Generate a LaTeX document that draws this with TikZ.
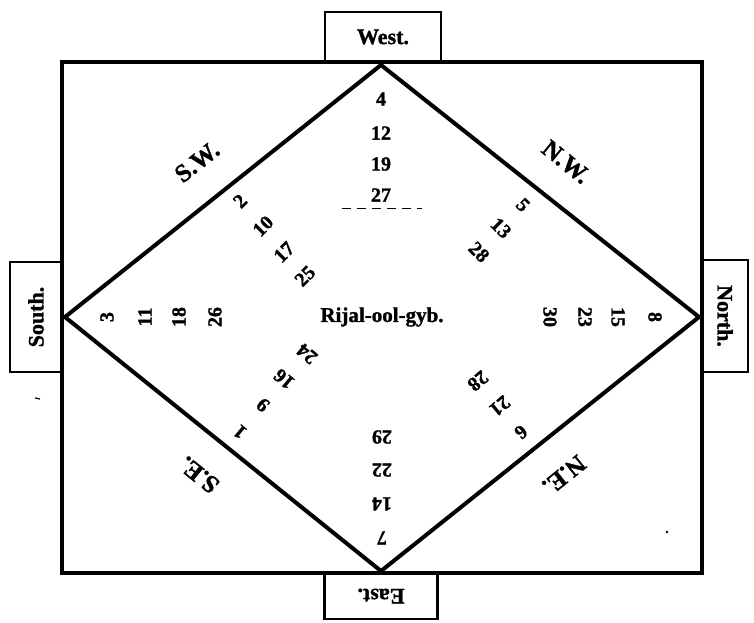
\documentclass[tikz,border=0pt]{standalone}
\usepackage{fontspec}
\setmainfont{Liberation Serif}[BoldFeatures={FakeBold=1.3}]
\usetikzlibrary{positioning}
\tikzset{
  num/.style={font=\fontsize{20}{22}\selectfont\bfseries, inner sep=0pt},
  quarter/.style={font=\fontsize{25}{28}\selectfont\bfseries, inner sep=0pt},
  tab/.style={draw, fill=white, line width=2.6pt, inner sep=0pt,
    font=\fontsize{22}{24}\selectfont\bfseries},
  frame/.style={line width=4pt},
}

\begin{document}
\begin{tikzpicture}[x=1pt,y=-1pt]
  \useasboundingbox (0,0) rectangle (754,622);
  % tabs on the four sides
  \node[tab, minimum width=116, minimum height=50] (westtab) at (383,37) {West.};
  \node[tab, minimum width=113, minimum height=46, rotate=180] (easttab) at (381,596) {East.};
  \node[tab, minimum width=110, minimum height=52, rotate=90] (southtab) at (36,317) {South.};
  \node[tab, minimum width=112, minimum height=46, rotate=-90] (northtab) at (725,316) {North.};
  % outer frame and the diamond
  \draw[frame] (62,62) rectangle (702,573);
  \coordinate (apW) at (381,65);
  \coordinate (apS) at (65,317);
  \coordinate (apN) at (699,317);
  \coordinate (apE) at (381,571);
  \draw[frame, line join=round] (apW) -- (apN) -- (apE) -- (apS) -- cycle;
  % names of the quarters
  \node[quarter, rotate=38.7] (sw) at (197,162) {S.W.};
  \node[quarter, rotate=-38.7] (nw) at (566,162) {N.W.};
  \node[quarter, rotate=141.3] (se) at (199,475) {S.E.};
  \node[quarter, rotate=-141.3] (ne) at (564,475) {N.E.};
  \node[num, font=\fontsize{21}{23}\selectfont\bfseries] (centre) at (382,317) {Rijal-ool-gyb.};
  % numbers towards the four apices
  \foreach \d/\y [count=\i] in {4/99,12/133,19/164,27/195}
    \node[num] (w\i) at (381,\y) {\d};
  \foreach \d/\x [count=\i] in {3/107,11/145,18/179,26/215}
    \node[num, rotate=90] (s\i) at (\x,317) {\d};
  \foreach \d/\x [count=\i] in {8/655,15/618,23/585,30/550}
    \node[num, rotate=-90] (n\i) at (\x,317) {\d};
  \foreach \d/\y [count=\i] in {7/538,14/504,22/470,29/437}
    \node[num, rotate=180] (e\i) at (382,\y) {\d};
  % numbers towards the four sides
  \foreach \d/\x/\y [count=\i] in {2/240/201,10/263/226,17/284/252,25/305/276}
    \node[num, rotate=45] (sw\i) at (\x,\y) {\d};
  \foreach \d/\x/\y [count=\i] in {5/523/205,13/501/228,28/479/252}
    \node[num, rotate=-45] (nw\i) at (\x,\y) {\d};
  \foreach \d/\x/\y [count=\i] in {1/240/432,9/263/405,16/284/379,24/307/354}
    \node[num, rotate=140] (se\i) at (\x,\y) {\d};
  \foreach \d/\x/\y [count=\i] in {6/521/432,21/500/406,28/478/381}
    \node[num, rotate=-140] (ne\i) at (\x,\y) {\d};
  % stray marks of the print
  \draw[line width=1pt, dash pattern=on 9pt off 6pt] (342,208) -- (422,208);
  \fill (667,532) circle (1.3pt);
  \draw[line width=1.2pt] (35,398) -- (40,399);
\end{tikzpicture}
\end{document}
